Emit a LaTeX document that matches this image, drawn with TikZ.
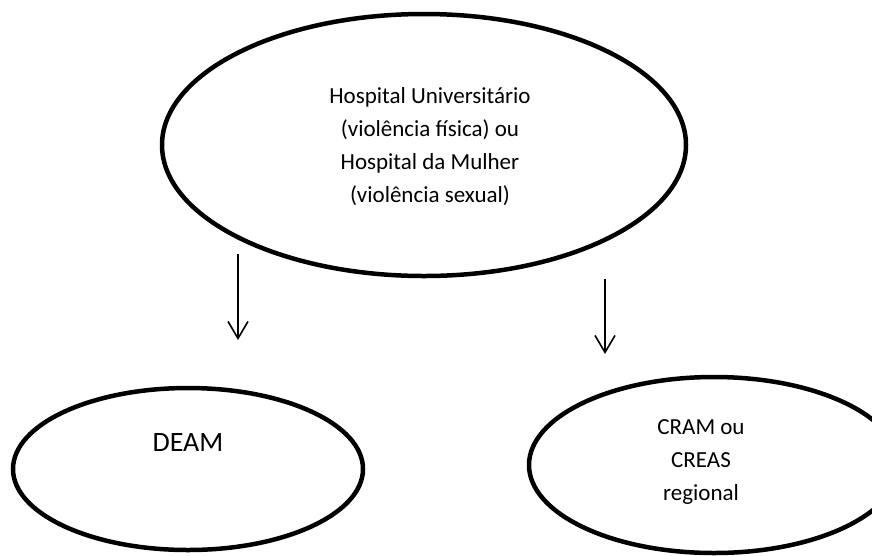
\documentclass[tikz,border=0pt]{standalone}
\usepackage{fontspec}
\setmainfont{Carlito}
\usetikzlibrary{shapes.geometric,arrows.meta}
\begin{document}
\begin{tikzpicture}[x=1pt,y=-1pt,
  oval/.style={draw,ellipse,line width=4.5pt,inner sep=0pt},
  caption/.style={align=center,inner sep=0pt,font=\fontsize{23}{33}\selectfont},
  flow/.style={line width=1.6pt,-{Straight Barb[length=17pt,width=20pt]}}]
\useasboundingbox (0,0) rectangle (872,555);
\clip (0,0) rectangle (872,555);

% hospital (top)
\node[oval,minimum width=524pt,minimum height=262pt] (hosp) at (424,145) {};
\node[caption] (hospText) at (430,147)
  {Hospital Universitário\\(violência física) ou\\Hospital da Mulher\\(violência sexual)};

% DEAM (bottom left)
\node[oval,minimum width=350pt,minimum height=162pt] (deam) at (188,469) {};
\node[inner sep=0pt,font=\fontsize{28}{34}\selectfont] (deamText) at (188,442.5) {DEAM};

% CRAM / CREAS (bottom right)
\node[oval,minimum width=370pt,minimum height=176pt] (cram) at (714,465) {};
\node[caption] (cramText) at (701,462) {CRAM ou\\CREAS\\regional};

% arrows
\coordinate (leftFrom) at (238,254);
\coordinate (leftTo) at (238,340);
\coordinate (rightFrom) at (605,279);
\coordinate (rightTo) at (605,354);
\draw[flow] (leftFrom) -- (leftTo);
\draw[flow] (rightFrom) -- (rightTo);
\end{tikzpicture}
\end{document}
